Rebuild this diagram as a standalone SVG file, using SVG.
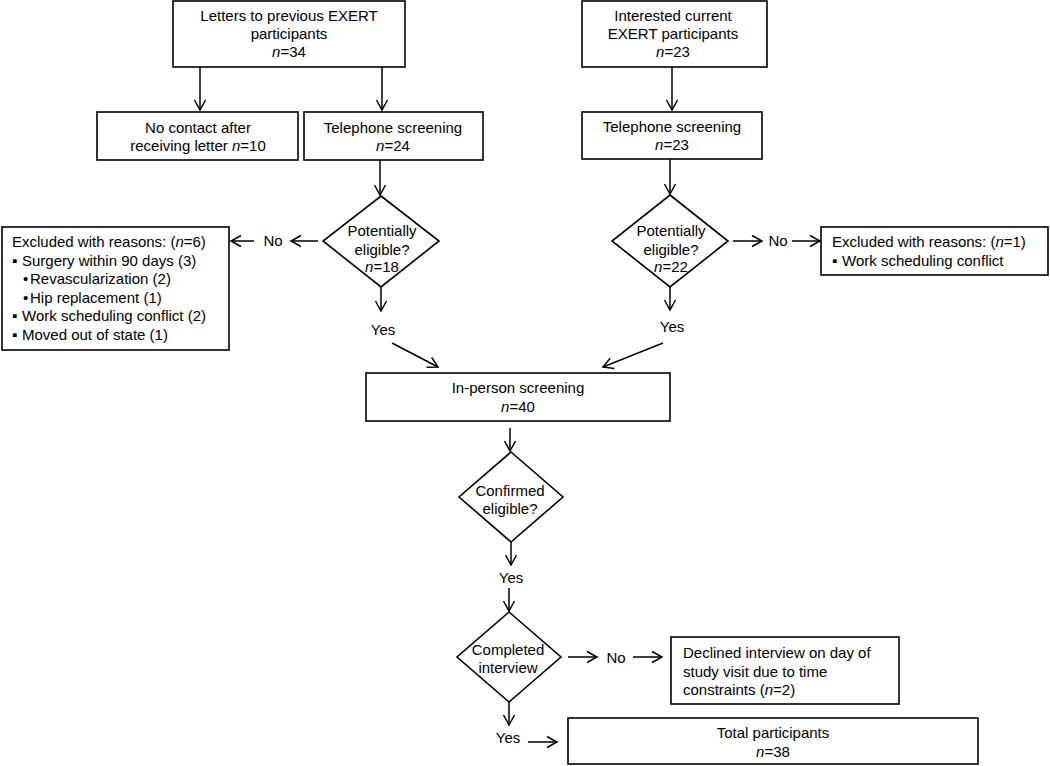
<svg xmlns="http://www.w3.org/2000/svg" width="1050" height="766" viewBox="0 0 1050 766">
<defs>
<marker id="ah" markerUnits="userSpaceOnUse" markerWidth="14" markerHeight="14" refX="10" refY="6" orient="auto" overflow="visible"><path d="M0,0.5 L10,6 L0,11.5" fill="none" stroke="#000" stroke-width="1.5"/></marker>
<style>
.box{fill:#fff;stroke:#000;stroke-width:1.6}
.t{font-family:"Liberation Sans",Arial,sans-serif;font-size:15px;fill:#000}
.c{text-anchor:middle}
.i{font-style:italic}
.ln{stroke:#000;stroke-width:1.5;fill:none;marker-end:url(#ah)}
</style>
</defs>
<rect width="1050" height="766" fill="#fff"/>

<g id="letters">
<rect class="box" x="173" y="1" width="232" height="66"/>
<text class="t c" x="289" y="21">Letters to previous EXERT</text>
<text class="t c" x="289" y="39">participants</text>
<text class="t c" x="289" y="57"><tspan class="i">n</tspan>=34</text>
</g>
<g id="nocontact">
<rect class="box" x="97" y="112" width="201" height="48"/>
<text class="t c" x="198" y="133">No contact after</text>
<text class="t c" x="198" y="151">receiving letter <tspan class="i">n</tspan>=10</text>
</g>
<g id="tel24">
<rect class="box" x="304" y="112" width="179" height="48"/>
<text class="t c" x="393" y="133">Telephone screening</text>
<text class="t c" x="393" y="151"><tspan class="i">n</tspan>=24</text>
</g>
<g id="interested">
<rect class="box" x="582" y="1" width="185" height="66"/>
<text class="t c" x="673" y="21">Interested current</text>
<text class="t c" x="673" y="39">EXERT participants</text>
<text class="t c" x="673" y="57"><tspan class="i">n</tspan>=23</text>
</g>
<g id="tel23">
<rect class="box" x="582" y="112" width="180" height="47"/>
<text class="t c" x="672" y="132">Telephone screening</text>
<text class="t c" x="672" y="150"><tspan class="i">n</tspan>=23</text>
</g>
<g id="elig1">
<polygon class="box" points="381,196 439,241 381,287 323,241"/>
<text class="t c" x="382" y="236">Potentially</text>
<text class="t c" x="382" y="255">eligible?</text>
<text class="t c" x="382" y="272"><tspan class="i">n</tspan>=18</text>
</g>
<g id="elig2">
<polygon class="box" points="670,195 728,241 670,287 612,241"/>
<text class="t c" x="671" y="236">Potentially</text>
<text class="t c" x="671" y="255">eligible?</text>
<text class="t c" x="671" y="272"><tspan class="i">n</tspan>=22</text>
</g>
<g id="excluded1">
<rect class="box" x="2" y="227" width="227" height="123"/>
<text class="t" x="12" y="247">Excluded with reasons: (<tspan class="i">n</tspan>=6)</text>
<text class="t" x="12" y="265.5">▪<tspan x="22">Surgery within 90 days (3)</tspan></text>
<text class="t" x="23" y="284">•<tspan x="30">Revascularization (2)</tspan></text>
<text class="t" x="23" y="302.5">•<tspan x="30">Hip replacement (1)</tspan></text>
<text class="t" x="12" y="321">▪<tspan x="22">Work scheduling conflict (2)</tspan></text>
<text class="t" x="12" y="339.5">▪<tspan x="22">Moved out of state (1)</tspan></text>
</g>
<g id="excluded2">
<rect class="box" x="821" y="227" width="227" height="48"/>
<text class="t" x="832" y="247">Excluded with reasons: (<tspan class="i">n</tspan>=1)</text>
<text class="t" x="832" y="266">▪<tspan x="842">Work scheduling conflict</tspan></text>
</g>
<g id="inperson">
<rect class="box" x="366" y="373" width="304" height="48"/>
<text class="t c" x="518" y="393">In-person screening</text>
<text class="t c" x="518" y="412"><tspan class="i">n</tspan>=40</text>
</g>
<g id="confirmed">
<polygon class="box" points="511,452 563,497 511,542 459,497"/>
<text class="t c" x="510" y="495.5">Confirmed</text>
<text class="t c" x="510" y="513.5">eligible?</text>
</g>
<g id="completed">
<polygon class="box" points="509,612 561,657 509,702 457,657"/>
<text class="t c" x="508" y="655">Completed</text>
<text class="t c" x="508" y="673">interview</text>
</g>
<g id="declined">
<rect class="box" x="671" y="637" width="228" height="67"/>
<text class="t" x="683" y="658">Declined interview on day of</text>
<text class="t" x="683" y="676.5">study visit due to time</text>
<text class="t" x="683" y="695"><tspan>constraints (</tspan><tspan class="i">n</tspan>=2)</text>
</g>
<g id="total">
<rect class="box" x="568" y="718" width="410" height="46"/>
<text class="t c" x="773" y="738">Total participants</text>
<text class="t c" x="773" y="757"><tspan class="i">n</tspan>=38</text>
</g>

<g id="labels">
<text class="t c" x="273" y="246">No</text>
<text class="t c" x="778" y="246">No</text>
<text class="t c" x="383" y="335">Yes</text>
<text class="t c" x="672" y="332">Yes</text>
<text class="t c" x="511" y="583">Yes</text>
<text class="t c" x="616" y="663">No</text>
<text class="t c" x="508" y="743">Yes</text>
</g>

<g id="connectors">
<line class="ln" x1="200" y1="67" x2="200" y2="110"/>
<line class="ln" x1="382" y1="67" x2="382" y2="110"/>
<line class="ln" x1="672" y1="67" x2="672" y2="110"/>
<line class="ln" x1="380" y1="160" x2="380" y2="195"/>
<line class="ln" x1="670" y1="159" x2="670" y2="194"/>
<line class="ln" x1="318" y1="241" x2="291" y2="241"/>
<line class="ln" x1="254" y1="241" x2="231" y2="241"/>
<line class="ln" x1="733" y1="241" x2="762" y2="241"/>
<line class="ln" x1="792" y1="241" x2="820" y2="241"/>
<line class="ln" x1="381" y1="287" x2="381" y2="311"/>
<line class="ln" x1="670" y1="287" x2="670" y2="310"/>
<line class="ln" x1="392" y1="343" x2="438" y2="367"/>
<line class="ln" x1="663" y1="343" x2="603" y2="367"/>
<line class="ln" x1="510" y1="428" x2="510" y2="451"/>
<line class="ln" x1="511" y1="542" x2="511" y2="565"/>
<line class="ln" x1="509" y1="588" x2="509" y2="611"/>
<line class="ln" x1="568" y1="657" x2="597" y2="657"/>
<line class="ln" x1="633" y1="657" x2="662" y2="657"/>
<line class="ln" x1="509" y1="702" x2="509" y2="725"/>
<line class="ln" x1="528" y1="742" x2="557" y2="742"/>
</g>
</svg>
